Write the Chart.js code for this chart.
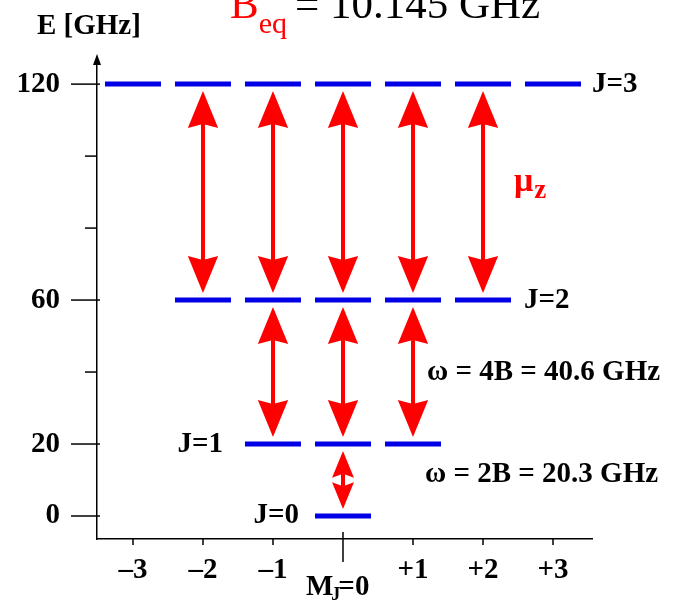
<!DOCTYPE html>
<html>
<head>
<meta charset="utf-8">
<script src="https://cdn.jsdelivr.net/npm/chart.js@4"></script>
<style>
  html, body { margin: 0; padding: 0; background: #fff; }
  #wrap { width: 677px; height: 603px; position: relative; }
</style>
</head>
<body>
<div id="wrap"><canvas id="chart"></canvas></div>
<script>
// rotational levels E = J(J+1)B, rounded as on the axis
const levelJ = [0, 1, 2, 3];
const levelE = [0, 20, 60, 120];
const mjValues = [-3, -2, -1, 0, 1, 2, 3];
const xTickLabels = ['\u20133', '\u20132', '\u20131', '', '+1', '+2', '+3'];
const yTickValues = [0, 20, 40, 60, 80, 100, 120];
const yTickLabels = ['0', '20', '', '60', '', '', '120'];
const omegaLabels = ['\u03c9 = 2B = 20.3 GHz', '\u03c9 = 4B = 40.6 GHz'];
const omegaY = [11.5, 40];
const bEq = '10.145';

const BLUE = '#0000e6';
const RED = '#ff0000';
const LBL = 29;
const font = (size, bold) => (bold ? 'bold ' : '') + size + 'px "Liberation Serif", "Times New Roman", serif';

// one dataset per J: a short bar for each M_J, broken by null points
const levelSets = levelJ.map((j, i) => {
  const pts = [];
  for (let m = -j; m <= j; m++) {
    pts.push({x: m - 0.4, y: levelE[i]}, {x: m + 0.4, y: levelE[i]}, {x: m + 0.4, y: null});
  }
  return {
    label: 'J=' + j,
    data: pts,
    borderColor: BLUE,
    borderWidth: 5,
    borderCapStyle: 'butt',
    pointRadius: 0,
    spanGaps: false,
    tension: 0
  };
});

function drawArrow(ctx, x, yTop, yBot) {
  const span = yBot - yTop;
  const hl = Math.min(37, span * 0.46);
  const hw = hl * 0.41;
  ctx.fillStyle = RED;
  ctx.strokeStyle = RED;
  ctx.lineWidth = 4;
  ctx.beginPath();
  ctx.moveTo(x, yTop + hl - 4);
  ctx.lineTo(x, yBot - hl + 4);
  ctx.stroke();
  ctx.beginPath();
  ctx.moveTo(x, yTop);
  ctx.lineTo(x + hw, yTop + hl);
  ctx.lineTo(x, yTop + hl - 4);
  ctx.lineTo(x - hw, yTop + hl);
  ctx.closePath();
  ctx.fill();
  ctx.beginPath();
  ctx.moveTo(x, yBot);
  ctx.lineTo(x + hw, yBot - hl);
  ctx.lineTo(x, yBot - hl + 4);
  ctx.lineTo(x - hw, yBot - hl);
  ctx.closePath();
  ctx.fill();
}

function text(ctx, str, x, y, f, color, align) {
  ctx.font = f;
  ctx.fillStyle = color || '#000';
  ctx.textAlign = align || 'left';
  ctx.textBaseline = 'middle';
  ctx.fillText(str, x, y);
  return ctx.measureText(str).width;
}

const diagram = {
  id: 'diagram',
  afterDatasetsDraw(chart) {
    const {ctx, scales: {x, y}} = chart;
    ctx.save();
    // dipole transitions J -> J+1 with the same M_J
    for (let i = 0; i < levelJ.length - 1; i++) {
      const j = levelJ[i];
      const top = y.getPixelForValue(levelE[i + 1]) + 7;
      const bot = y.getPixelForValue(levelE[i]) - 7;
      for (let m = -j; m <= j; m++) {
        drawArrow(ctx, x.getPixelForValue(m), top, bot);
      }
    }
    ctx.restore();
  },
  afterDraw(chart) {
    const {ctx, chartArea: a, scales: {x, y}} = chart;
    ctx.save();
    ctx.strokeStyle = '#000';
    ctx.fillStyle = '#000';
    ctx.lineWidth = 1.5;
    // y tick marks
    yTickValues.forEach((v, i) => {
      const py = y.getPixelForValue(v);
      const len = yTickLabels[i] ? 26 : 12;
      ctx.beginPath();
      ctx.moveTo(a.left - len, py);
      ctx.lineTo(a.left + (yTickLabels[i] ? 3 : 0), py);
      ctx.stroke();
    });
    // x tick marks
    mjValues.forEach(m => {
      const px = x.getPixelForValue(m);
      ctx.beginPath();
      if (m === 0) { ctx.moveTo(px, a.bottom - 7); ctx.lineTo(px, a.bottom + 23); }
      else { ctx.moveTo(px, a.bottom); ctx.lineTo(px, a.bottom + 6); }
      ctx.stroke();
    });
    // arrow head of the energy axis
    ctx.beginPath();
    ctx.moveTo(a.left, a.top - 6);
    ctx.lineTo(a.left + 4, a.top + 5);
    ctx.lineTo(a.left - 4, a.top + 5);
    ctx.closePath();
    ctx.fill();

    // axis titles
    text(ctx, 'E [GHz]', 37, 27, font(LBL, true));
    let mx = x.getPixelForValue(0) - 37;
    const my = 588;
    mx += text(ctx, 'M', mx, my, font(LBL, true));
    text(ctx, 'J', mx - 2, my + 7, font(18, true));
    text(ctx, '=0', mx + 5, my, font(LBL, true));

    // level labels
    const jy = levelJ.map((j, i) => y.getPixelForValue(levelE[i]));
    text(ctx, 'J=3', x.getPixelForValue(3.4) + 11, jy[3], font(LBL, true));
    text(ctx, 'J=2', x.getPixelForValue(2.4) + 13, jy[2], font(LBL, true));
    text(ctx, 'J=1', x.getPixelForValue(-1.4) - 22, jy[1], font(LBL, true), '#000', 'right');
    text(ctx, 'J=0', x.getPixelForValue(-0.4) - 16, jy[0], font(LBL, true), '#000', 'right');

    // transition energies
    text(ctx, omegaLabels[1], 427, y.getPixelForValue(omegaY[1]), font(LBL, true));
    text(ctx, omegaLabels[0], 425, y.getPixelForValue(omegaY[0]), font(LBL, true));

    // dipole operator
    let ux = 514;
    ux += text(ctx, '\u03bc', ux, 182, font(34, true), RED);
    text(ctx, 'z', ux + 1, 191, font(27, true), RED);

    // rotational constant, cut by the top edge
    let tx = 230;
    ctx.textBaseline = 'alphabetic';
    ctx.font = font(43);
    ctx.fillStyle = RED;
    ctx.textAlign = 'left';
    ctx.fillText('B', tx, 18);
    tx += ctx.measureText('B').width;
    ctx.font = font(30);
    ctx.fillText('eq', tx, 33);
    tx += ctx.measureText('eq').width + 8;
    ctx.font = font(43);
    ctx.fillStyle = '#000';
    ctx.fillText('= ' + bEq + ' GHz', tx, 18);
    ctx.restore();
  }
};

new Chart(document.getElementById('chart'), {
  type: 'line',
  data: { datasets: levelSets },
  options: {
    responsive: true,
    maintainAspectRatio: false,
    animation: false,
    events: [],
    layout: { padding: { top: 60, right: 85, left: 0, bottom: 0 } },
    plugins: { legend: { display: false }, tooltip: { enabled: false } },
    scales: {
      x: {
        type: 'linear',
        min: -3.514,
        max: 3.557,
        afterBuildTicks: s => { s.ticks = mjValues.map(v => ({value: v})); },
        afterFit: s => { s.height = 64; },
        grid: { display: false },
        border: { display: true, color: '#000', width: 1.5 },
        ticks: {
          autoSkip: false,
          maxRotation: 0,
          padding: 6,
          color: '#000',
          font: { family: '"Liberation Serif", serif', size: LBL, weight: 'bold' },
          callback: (v, i) => xTickLabels[i]
        }
      },
      y: {
        type: 'linear',
        min: -6.39,
        max: 126.7,
        afterBuildTicks: s => { s.ticks = yTickValues.map(v => ({value: v})); },
        afterFit: s => { s.width = 97; },
        grid: { display: false },
        border: { display: true, color: '#000', width: 1.5 },
        ticks: {
          autoSkip: false,
          padding: 29,
          color: '#000',
          font: { family: '"Liberation Serif", serif', size: LBL, weight: 'bold' },
          callback: (v, i) => yTickLabels[i]
        }
      }
    }
  },
  plugins: [diagram]
});
</script>
</body>
</html>
